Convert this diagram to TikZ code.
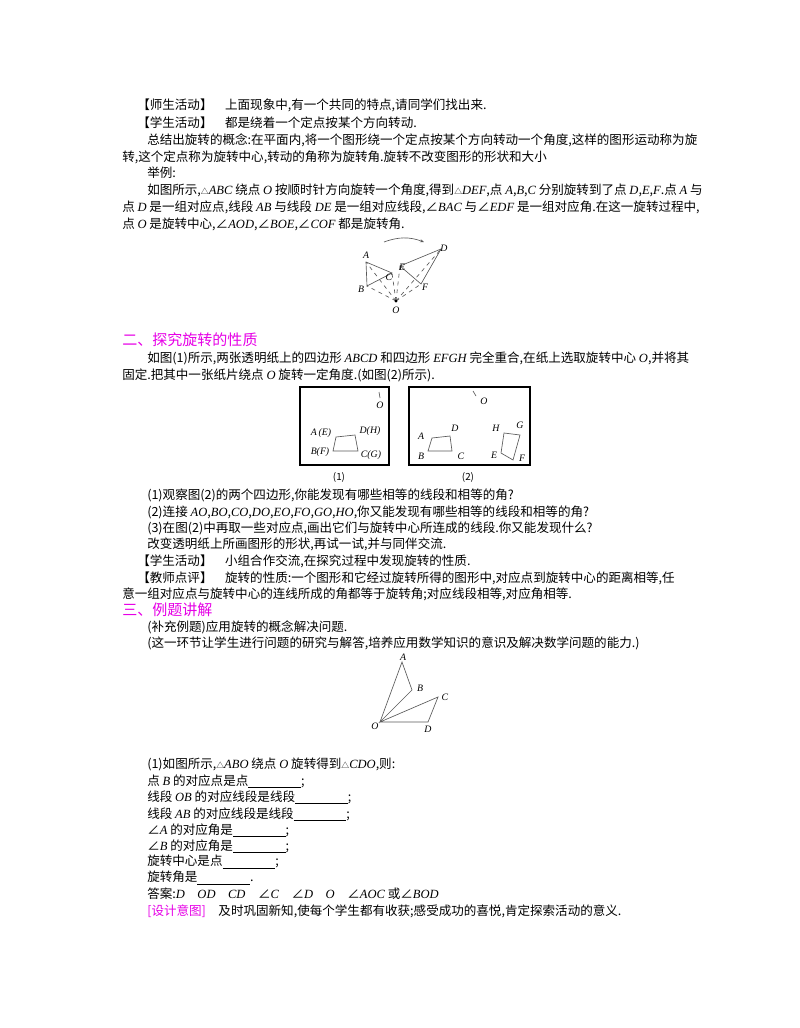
\documentclass[tikz,border=0pt]{standalone}
\usepackage{fontspec}
\setmainfont{Noto Sans CJK SC}
\newfontfamily\lat{Liberation Serif}
\newcommand{\m}[1]{{\lat\itshape #1}}
\newcommand{\tri}{{\fontsize{6pt}{6pt}\selectfont △}}
\newcommand{\bl}{\underline{\hspace{4.2em}}}
\usetikzlibrary{arrows.meta}
\definecolor{mag}{RGB}{230,0,230}
\begin{document}
\begin{tikzpicture}[x=0.765pt,y=-0.765pt,
  tl/.style={anchor=west,inner sep=0pt,font=\fontsize{9.6pt}{11pt}\selectfont},
  hd/.style={tl,text=mag,font=\fontsize{11.5pt}{13pt}\selectfont},
  lb/.style={inner sep=0pt,font=\fontsize{7.5pt}{8pt}\lat\itshape},
  ln/.style={line width=0.5pt,gray!70!black},
  dl/.style={ln,dashed}]
\useasboundingbox (0,0) rectangle (800,1028);
\node[tl] (t1) at (137,105) {【师生活动】\quad 上面现象中,有一个共同的特点,请同学们找出来.};
\node[tl] (t2) at (137,123) {【学生活动】\quad 都是绕着一个定点按某个方向转动.};
\node[tl] (t3) at (147,140) {总结出旋转的概念:在平面内,将一个图形绕一个定点按某个方向转动一个角度,这样的图形运动称为旋};
\node[tl] (t4) at (122,157) {转,这个定点称为旋转中心,转动的角称为旋转角.旋转不改变图形的形状和大小};
\node[tl] (t5) at (147,173) {举例:};
\node[tl] (t6) at (147,190) {如图所示,\tri\m{ABC} 绕点 \m{O} 按顺时针方向旋转一个角度,得到\tri\m{DEF},点 \m{A},\m{B},\m{C} 分别旋转到了点 \m{D},\m{E},\m{F}.点 \m{A} 与};
\node[tl] (t7) at (122,207) {点 \m{D} 是一组对应点,线段 \m{AB} 与线段 \m{DE} 是一组对应线段,∠\m{BAC} 与∠\m{EDF} 是一组对应角.在这一旋转过程中,};
\node[tl] (t8) at (122,224) {点 \m{O} 是旋转中心,∠\m{AOD},∠\m{BOE},∠\m{COF} 都是旋转角.};
% figure 1
\coordinate (A) at (366,262); \coordinate (B) at (367,286); \coordinate (C) at (392,273);
\coordinate (D) at (441,249); \coordinate (E) at (400,266); \coordinate (F) at (421,284);
\coordinate (O) at (396,301);
\draw[ln] (A)--(B)--(C)--cycle;
\draw[ln] (D)--(E)--(F)--cycle;
\foreach \p in {A,B,C,D,E,F} \draw[dl] (O)--(\p);
\fill (O) circle (1.6);
\draw[ln,-{Stealth[length=3pt]}] (384,242) to[bend left=20] (424,242);
\node[lb] (la) at (366,255) {A}; \node[lb] (lb) at (361,289) {B};
\node[lb] (lc) at (389,277) {C}; \node[lb] (le) at (402,267) {E};
\node[lb] (ld) at (444,248) {D}; \node[lb] (lf) at (425,287) {F};
\node[lb] (lo) at (396,310) {O};
\node[hd] (h2) at (122,340) {二、探究旋转的性质};
\node[tl] (t9) at (147,358) {如图(1)所示,两张透明纸上的四边形 \m{ABCD} 和四边形 \m{EFGH} 完全重合,在纸上选取旋转中心 \m{O},并将其};
\node[tl] (t10) at (122,375) {固定.把其中一张纸片绕点 \m{O} 旋转一定角度.(如图(2)所示).};
% figure 2
\draw[line width=1.1pt] (300,387) rectangle (389,465);
\draw[line width=1.1pt] (409,387) rectangle (530,465);
\draw[ln] (379,392)--(380,398); \node[lb] (o1) at (380,405) {O};
\draw[ln] (336,437)--(355,435)--(358,451)--(333,451)--cycle;
\node[lb] (a1) at (321,433) {A\,(E)}; \node[lb] (d1) at (370,431) {D(H)};
\node[lb] (b1) at (320,452) {B(F)}; \node[lb] (c1) at (371,455) {C(G)};
\draw[ln] (473,391)--(476,396); \node[lb] (o2) at (484,401) {O};
\draw[ln] (432,438)--(450,436)--(452,451)--(428,451)--cycle;
\node[lb] (a2) at (421,436) {A}; \node[lb] (d2) at (455,428) {D};
\node[lb] (b2) at (421,456) {B}; \node[lb] (c2) at (461,456) {C};
\draw[ln] (504,433)--(520,435)--(513,460)--(501,453)--cycle;
\node[lb] (h) at (496,428) {H}; \node[lb] (g) at (520,425) {G};
\node[lb] (e) at (494,455) {E}; \node[lb] (f) at (522,458) {F};
\node[inner sep=0pt,font=\fontsize{7.5pt}{8pt}\selectfont] (n1) at (339,477) {(1)};
\node[inner sep=0pt,font=\fontsize{7.5pt}{8pt}\selectfont] (n2) at (468,477) {(2)};
\node[tl] (t11) at (147,495) {(1)观察图(2)的两个四边形,你能发现有哪些相等的线段和相等的角?};
\node[tl] (t12) at (147,512) {(2)连接 \m{AO},\m{BO},\m{CO},\m{DO},\m{EO},\m{FO},\m{GO},\m{HO},你又能发现有哪些相等的线段和相等的角?};
\node[tl] (t13) at (147,528) {(3)在图(2)中再取一些对应点,画出它们与旋转中心所连成的线段.你又能发现什么?};
\node[tl] (t14) at (147,544) {改变透明纸上所画图形的形状,再试一试,并与同伴交流.};
\node[tl] (t15) at (137,561) {【学生活动】\quad 小组合作交流,在探究过程中发现旋转的性质.};
\node[tl] (t16) at (137,578) {【教师点评】\quad 旋转的性质:一个图形和它经过旋转所得的图形中,对应点到旋转中心的距离相等,任};
\node[tl] (t17) at (122,594) {意一组对应点与旋转中心的连线所成的角都等于旋转角;对应线段相等,对应角相等.};
\node[hd] (h3) at (122,610) {三、例题讲解};
\node[tl] (t18) at (147,627) {(补充例题)应用旋转的概念解决问题.};
\node[tl] (t19) at (147,643) {(这一环节让学生进行问题的研究与解答,培养应用数学知识的意识及解决数学问题的能力.)};
% figure 3
\coordinate (PA) at (402,662); \coordinate (PB) at (412,690); \coordinate (PC) at (438,697);
\coordinate (PO) at (380,722); \coordinate (PD) at (428,722);
\draw[ln] (PO)--(PA)--(PB)--cycle;
\draw[ln] (PO)--(PC)--(PD)--cycle;
\node[lb] (qa) at (403,657) {A}; \node[lb] (qb) at (420,688) {B};
\node[lb] (qc) at (445,697) {C}; \node[lb] (qo) at (375,726) {O};
\node[lb] (qd) at (428,729) {D};
\node[tl] (t20) at (147,764) {(1)如图所示,\tri\m{ABO} 绕点 \m{O} 旋转得到\tri\m{CDO},则:};
\node[tl] (t21) at (147,781) {点 \m{B} 的对应点是点\bl;};
\node[tl] (t22) at (147,797) {线段 \m{OB} 的对应线段是线段\bl;};
\node[tl] (t23) at (147,814) {线段 \m{AB} 的对应线段是线段\bl;};
\node[tl] (t24) at (147,830) {∠\m{A} 的对应角是\bl;};
\node[tl] (t25) at (147,846) {∠\m{B} 的对应角是\bl;};
\node[tl] (t26) at (147,862) {旋转中心是点\bl;};
\node[tl] (t27) at (147,878) {旋转角是\bl.};
\node[tl] (t28) at (147,894) {答案:\m{D}\quad \m{OD}\quad \m{CD}\quad ∠\m{C}\quad ∠\m{D}\quad \m{O}\quad ∠\m{AOC} 或∠\m{BOD}};
\node[tl] (t29) at (147,911) {\textcolor{mag}{[设计意图]}\quad 及时巩固新知,使每个学生都有收获;感受成功的喜悦,肯定探索活动的意义.};
\end{tikzpicture}
\end{document}
